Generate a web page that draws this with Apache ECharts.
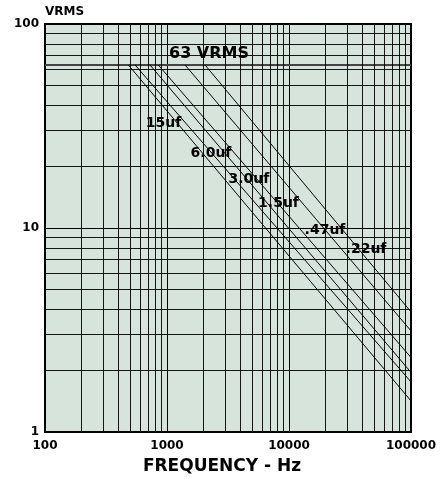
<!DOCTYPE html>
<html>
<head>
<meta charset="utf-8">
<script src="https://cdn.jsdelivr.net/npm/echarts@6/dist/echarts.min.js"></script>
<style>html,body{margin:0;padding:0;background:#fff;}#c{width:444px;height:480px;}</style>
</head>
<body>
<div id="c"></div>
<script>
// ---- data ----
const xMin = 100, xMax = 100000;
const yMin = 1, yMax = 100;
const xMinorGrid = [200,300,400,500,600,700,800,900,2000,3000,4000,5000,6000,7000,8000,9000,20000,30000,40000,50000,60000,70000,80000,90000];
const yMinorGrid = [2,3,4,5,6,7,8,9,20,30,40,50,60,70,80,90];
const ratedVoltage = 63;
const ratedLabel = '63 VRMS';
const ratedLabelPos = [2210, 71.7];
const capLabels = ['15uf', '6.0uf', '3.0uf', '1.5uf', '.47uf', '.22uf'];
const breakFreq = [482, 547, 725, 848, 1405, 2049];
const endVolt = [1.42, 1.76, 1.96, 2.32, 3.13, 3.88];
const labelFreq = [936, 2295, 4699, 8204, 19730, 42780];
const labelVolt = [32.4, 23.3, 17.3, 13.2, 9.72, 7.85];

const FONT = 'DejaVu Sans';
const lineColor = '#000';

const series = [];
// minor grid lines
series.push({
  type: 'line', data: [], silent: true,
  markLine: {
    silent: true, symbol: 'none', label: {show: false},
    lineStyle: {color: lineColor, width: 1, type: 'solid', opacity: 0.9},
    data: xMinorGrid.map(v => ({xAxis: v})).concat(yMinorGrid.map(v => ({yAxis: v})))
  }
});
// rated voltage line
series.push({
  type: 'line', silent: true, symbol: 'none',
  lineStyle: {color: '#444', width: 2},
  data: [[xMin, ratedVoltage], [xMax, ratedVoltage]]
});
// capacitor curves
capLabels.forEach((name, i) => {
  series.push({
    name: name, type: 'line', silent: true, symbol: 'none',
    lineStyle: {color: '#000', width: 1},
    data: [[breakFreq[i], ratedVoltage], [xMax, endVolt[i]]]
  });
});
// labels
const lbl = {show: true, position: 'inside', color: '#000', opacity: 1, textBorderWidth: 0, fontFamily: FONT, fontWeight: 'bold'};
series.push({
  type: 'scatter', silent: true, symbolSize: 1, z: 10,
  itemStyle: {color: 'rgba(0,0,0,0)', opacity: 1},
  label: Object.assign({}, lbl, {fontSize: 14, formatter: p => p.data[2]}),
  data: capLabels.map((n, i) => [labelFreq[i], labelVolt[i], n])
});
series.push({
  type: 'scatter', silent: true, symbolSize: 1, z: 10,
  itemStyle: {color: 'rgba(0,0,0,0)', opacity: 1},
  label: Object.assign({}, lbl, {fontSize: 16, formatter: p => p.data[2]}),
  data: [[ratedLabelPos[0], ratedLabelPos[1], ratedLabel]]
});

const chart = echarts.init(document.getElementById('c'), null, {renderer: 'canvas'});
chart.setOption({
  animation: false,
  backgroundColor: '#ffffff',
  grid: {left: 45, right: 33, top: 24, bottom: 47, show: true, backgroundColor: '#d6e4dc', borderColor: '#000', borderWidth: 2},
  xAxis: {
    type: 'log', logBase: 10, min: xMin, max: xMax,
    name: 'FREQUENCY - Hz', nameLocation: 'middle', nameGap: 26,
    nameTextStyle: {color: '#000', fontFamily: FONT, fontWeight: 'bold', fontSize: 17, padding: [0, 12, 0, 0]},
    axisLine: {show: false}, axisTick: {show: false},
    axisLabel: {color: '#000', fontFamily: FONT, fontWeight: 'bold', fontSize: 12, margin: 8, formatter: v => String(Math.round(v))},
    splitLine: {show: true, lineStyle: {color: lineColor, width: 1}},
    minorTick: {show: false}
  },
  yAxis: {
    type: 'log', logBase: 10, min: yMin, max: yMax,
    name: 'VRMS', nameLocation: 'end', nameGap: 6,
    nameTextStyle: {color: '#000', fontFamily: FONT, fontWeight: 'bold', fontSize: 12, align: 'left'},
    axisLine: {show: false}, axisTick: {show: false},
    axisLabel: {color: '#000', fontFamily: FONT, fontWeight: 'bold', fontSize: 12, margin: 6, formatter: v => String(Math.round(v))},
    splitLine: {show: true, lineStyle: {color: lineColor, width: 1}}
  },
  series: series
});
</script>
</body>
</html>
